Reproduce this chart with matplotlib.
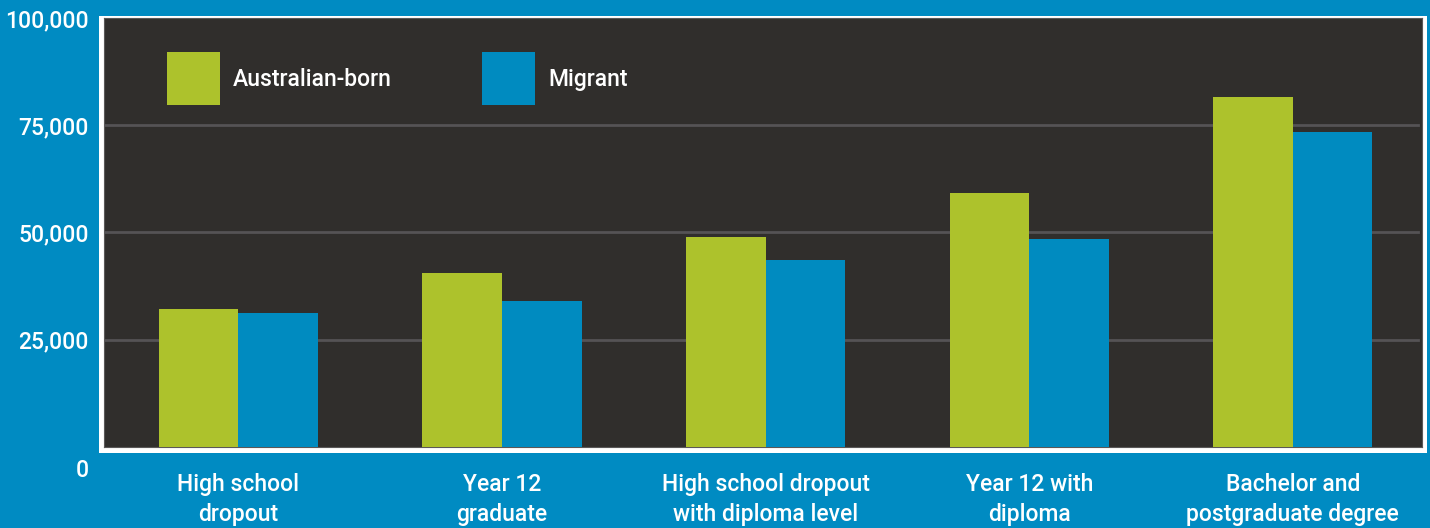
import numpy as np
import matplotlib.pyplot as plt
from matplotlib.patches import Rectangle
import matplotlib.transforms as mtransforms

categories = ["High school\ndropout", "Year 12\ngraduate", "High school dropout\nwith diploma level",
              "Year 12 with\ndiploma", "Bachelor and\npostgraduate degree"]
australian_born = [32200, 40600, 49000, 59200, 81600]
migrant = [31200, 34000, 43600, 48500, 73400]
series_names = ["Australian-born", "Migrant"]
yticks = [0, 25000, 50000, 75000, 100000]

bg_blue = "#008bc2"
green = "#adc22c"
bar_blue = "#008bc0"
dark = "#302e2c"
grid_col = "#555355"

plt.rcParams['font.family'] = ['Roboto', 'DejaVu Sans']
plt.rcParams['font.weight'] = 'medium'
fs = 16.5

W, H = 1430, 528
fig = plt.figure(figsize=(W / 100, H / 100), dpi=100, facecolor=bg_blue)

# white frame behind the dark plot area
fig.patches.append(Rectangle((99 / W, 1 - 453 / H), (1427 - 99) / W, (453 - 16) / H,
                             transform=fig.transFigure, facecolor="white", edgecolor="none", zorder=0))

ax_l, ax_r, ax_t, ax_b = 104, 1422, 18, 447
ax = fig.add_axes([ax_l / W, 1 - ax_b / H, (ax_r - ax_l) / W, (ax_b - ax_t) / H])
ax.set_facecolor(dark)
ax.set_zorder(1)

x = np.arange(len(categories))
w = 0.302
ax.bar(x - w / 2, australian_born, w, color=green, zorder=3)
ax.bar(x + w / 2, migrant, w, color=bar_blue, zorder=3)

ax.set_xlim(-0.51, len(categories) - 0.51)
ax.set_ylim(0, 100000)

for v in yticks[1:-1]:
    ax.axhline(v, xmin=0, xmax=0.997, color=grid_col, lw=2, zorder=1)

for s in ax.spines.values():
    s.set_color("#5a5858")
    s.set_linewidth(0.8)

ax.set_yticks(yticks)
ax.set_yticklabels([f"{v:,}" for v in yticks])
ax.tick_params(axis='y', length=0, pad=11, labelsize=fs, labelcolor="white")
# zero label sits a bit below the baseline
zero_lbl = ax.get_yticklabels()[0]
zero_lbl.set_transform(zero_lbl.get_transform() + mtransforms.ScaledTranslation(0, -0.21, fig.dpi_scale_trans))

ax.set_xticks(x)
ax.set_xticklabels(categories, linespacing=1.38)
ax.tick_params(axis='x', length=0, pad=19, labelsize=fs, labelcolor="white")

# legend: coloured squares with labels, placed in pixel terms of the axes
aw, ah = ax_r - ax_l, ax_b - ax_t
sq = 53
for name, col, px in zip(series_names, [green, bar_blue], [167, 482]):
    ax.add_patch(Rectangle(((px - ax_l) / aw, 1 - (105 - ax_t) / ah), sq / aw, sq / ah,
                           transform=ax.transAxes, facecolor=col, edgecolor="none", zorder=4))
    ax.text((px + sq + 13 - ax_l) / aw, 1 - (86 - ax_t) / ah, name, transform=ax.transAxes,
            color="white", fontsize=fs, va="baseline", ha="left", zorder=4)

fig.savefig("out.png", dpi=100, facecolor=bg_blue)
